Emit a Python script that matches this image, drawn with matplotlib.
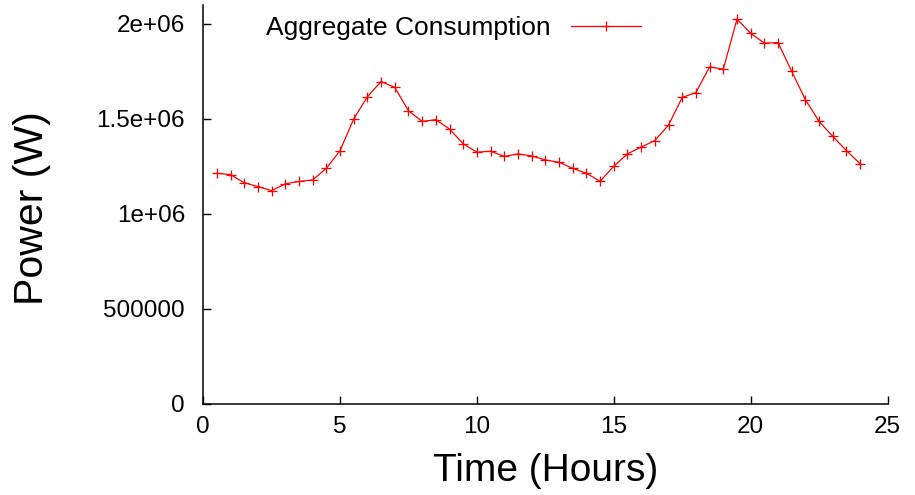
import matplotlib
matplotlib.use("Agg")
import matplotlib.pyplot as plt

plt.rcParams['font.family'] = ['Liberation Sans', 'DejaVu Sans']

# half-hourly aggregate consumption (W)
hours = [0.5, 1.0, 1.5, 2.0, 2.5, 3.0, 3.5, 4.0, 4.5, 5.0, 5.5, 6.0,
         6.5, 7.0, 7.5, 8.0, 8.5, 9.0, 9.5, 10.0, 10.5, 11.0, 11.5, 12.0,
         12.5, 13.0, 13.5, 14.0, 14.5, 15.0, 15.5, 16.0, 16.5, 17.0, 17.5, 18.0,
         18.5, 19.0, 19.5, 20.0, 20.5, 21.0, 21.5, 22.0, 22.5, 23.0, 23.5, 24.0]
power = [1.214e6, 1.207e6, 1.164e6, 1.144e6, 1.123e6, 1.158e6, 1.171e6, 1.179e6,
         1.240e6, 1.333e6, 1.500e6, 1.617e6, 1.697e6, 1.666e6, 1.543e6, 1.487e6,
         1.496e6, 1.447e6, 1.369e6, 1.325e6, 1.330e6, 1.303e6, 1.316e6, 1.305e6,
         1.284e6, 1.272e6, 1.240e6, 1.214e6, 1.172e6, 1.251e6, 1.316e6, 1.352e6,
         1.386e6, 1.468e6, 1.613e6, 1.639e6, 1.774e6, 1.762e6, 2.025e6, 1.951e6,
         1.899e6, 1.902e6, 1.750e6, 1.601e6, 1.487e6, 1.408e6, 1.333e6, 1.264e6]

xticks = [0, 5, 10, 15, 20, 25]
yticks = [0, 500000, 1000000, 1500000, 2000000]
ytick_labels = ["0", "500000", "1e+06", "1.5e+06", "2e+06"]

fig = plt.figure(figsize=(9.15, 4.95), dpi=100)
ax = fig.add_axes([0.222, 0.184, 0.748, 0.806])

ax.plot(hours, power, color="#ff0000", lw=0.9, marker="+", ms=7, mew=0.9,
        label="Aggregate Consumption")

ax.set_xlim(0, 25)
ax.set_ylim(0, 2.1e6)
ax.set_xticks(xticks)
ax.set_yticks(yticks)
ax.set_yticklabels(ytick_labels)
ax.tick_params(direction="in", length=5.5, width=1, labelsize=17.5)
ax.tick_params(axis="y", pad=13)
ax.tick_params(axis="x", pad=9)

for s in ["top", "right"]:
    ax.spines[s].set_visible(False)
for s in ["left", "bottom"]:
    ax.spines[s].set_linewidth(1.1)

ax.set_xlabel("Time (Hours)", fontsize=28)
ax.set_ylabel("Power (W)", fontsize=29.5)
ax.xaxis.set_label_coords(0.5, -0.123)
ax.yaxis.set_label_coords(-0.223, 0.49)

ax.legend(loc="center left", bbox_to_anchor=(0.092, 0.942), frameon=False,
          markerfirst=False, fontsize=19, handlelength=2.65, handletextpad=0.77,
          borderpad=0, borderaxespad=0)

fig.savefig("out.png", dpi=100)
